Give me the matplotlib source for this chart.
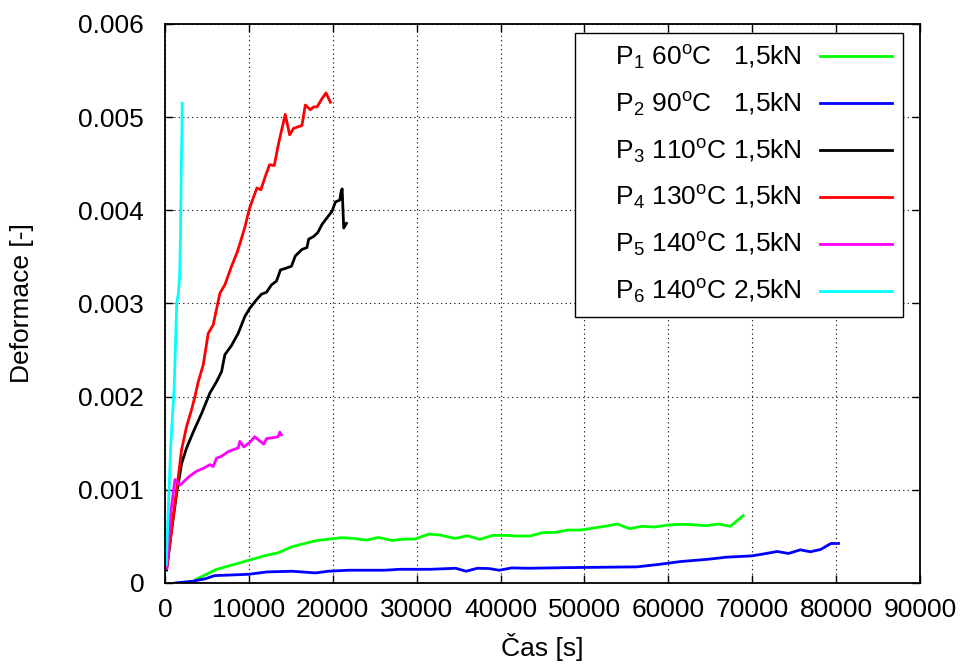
import matplotlib
matplotlib.use("Agg")
import matplotlib.pyplot as plt
from matplotlib.ticker import MultipleLocator, FuncFormatter

plt.rcParams['font.family'] = ['Liberation Sans', 'DejaVu Sans']
plt.rcParams['mathtext.fontset'] = 'custom'
plt.rcParams['mathtext.rm'] = 'Liberation Sans'
plt.rcParams['mathtext.it'] = 'Liberation Sans'

# P1: 60 °C, 1.5 kN
p1_t = [3650, 6080, 10040, 12170, 13500, 15090, 17940, 20990, 22500, 24030,
        25430, 27070, 28590, 29800, 31450, 32850, 34550, 36070, 37530, 39050,
        40750, 41970, 43490, 45010, 46530, 48050, 49570, 51090, 52610, 53950,
        55350, 56870, 58390, 59910, 61440, 62960, 64480, 66000, 67400, 68920]
p1_e = [0.000036, 0.000144, 0.000245, 0.000299, 0.000324, 0.000388, 0.000453,
        0.000486, 0.000478, 0.000460, 0.000489, 0.000457, 0.000471, 0.000471,
        0.000525, 0.000514, 0.000478, 0.000507, 0.000468, 0.000511, 0.000511,
        0.000504, 0.000504, 0.000540, 0.000543, 0.000568, 0.000568, 0.000590,
        0.000611, 0.000633, 0.000583, 0.000608, 0.000601, 0.000622, 0.000629,
        0.000626, 0.000615, 0.000633, 0.000608, 0.000723]

# P2: 90 °C, 1.5 kN
p2_t = [1220, 3350, 4870, 5900, 7910, 10040, 12170, 15210, 17940, 19460,
        21900, 26160, 27980, 31630, 34670, 35890, 37230, 38630, 39840, 41360,
        43190, 48050, 56260, 59000, 61440, 64780, 66910, 69950, 71170, 72990,
        74330, 75730, 76940, 78160, 79380, 80290]
p2_e = [0.0, 0.000020, 0.000047, 0.000079, 0.000086, 0.000094, 0.000119,
        0.000126, 0.000108, 0.000126, 0.000137, 0.000137, 0.000147, 0.000147,
        0.000158, 0.000126, 0.000158, 0.000155, 0.000137, 0.000162, 0.000158,
        0.000165, 0.000173, 0.000201, 0.000230, 0.000255, 0.000277, 0.000291,
        0.000309, 0.000338, 0.000317, 0.000356, 0.000335, 0.000360, 0.000424,
        0.000424]

# P3: 110 °C, 1.5 kN
p3_t = [200, 790, 1390, 1980, 2580, 3370, 4370, 5360, 6150, 6750, 7140, 7940,
        8730, 9520, 10120, 10910, 11510, 12100, 12700, 13290, 13770, 14480,
        15080, 15540, 16330, 16930, 17130, 17730, 18210, 18730, 19320, 19920,
        20320, 20840, 21000, 21120, 21310, 21630]
p3_e = [0.00014, 0.00057, 0.00096, 0.00128, 0.00145, 0.00162, 0.00182, 0.00204,
        0.00216, 0.00227, 0.00245, 0.00255, 0.00268, 0.00286, 0.00295, 0.00304,
        0.00310, 0.00312, 0.00320, 0.00324, 0.00336, 0.00338, 0.00340, 0.00351,
        0.00358, 0.00360, 0.00369, 0.00372, 0.00376, 0.00385, 0.00392, 0.00399,
        0.00409, 0.00411, 0.00420, 0.00423, 0.00381, 0.00386]

# P4: 130 °C, 1.5 kN
p4_t = [200, 790, 1390, 1980, 2580, 3170, 3570, 3970, 4560, 5160, 5750, 6550,
        7140, 7940, 8610, 8960, 9560, 10040, 10960, 11430, 11950, 12470, 13030,
        13550, 14340, 14860, 15340, 16330, 16730, 17330, 17730, 18130, 18730,
        19200, 19720]
p4_e = [0.000157, 0.00057, 0.00100, 0.00143, 0.00168, 0.00186, 0.00200,
        0.00216, 0.00234, 0.00268, 0.00277, 0.00311, 0.00320, 0.00340, 0.00355,
        0.00365, 0.00383, 0.00401, 0.00424, 0.00422, 0.00436, 0.00449, 0.00448,
        0.00472, 0.00503, 0.00481, 0.00488, 0.00491, 0.00513, 0.00508, 0.00511,
        0.00511, 0.00520, 0.00526, 0.00516]

# P5: 140 °C, 1.5 kN
p5_t = [200, 680, 1190, 1790, 2380, 2980, 3770, 4560, 5360, 5750, 6150, 6750,
        7540, 8130, 8730, 8930, 9400, 10120, 10710, 11230, 11790, 12100, 12900,
        13490, 13690, 13890]
p5_e = [0.000157, 0.000748, 0.00111, 0.00105, 0.00110, 0.00115, 0.00120,
        0.00123, 0.00127, 0.00125, 0.00134, 0.00136, 0.00141, 0.00143, 0.00145,
        0.00152, 0.00146, 0.00151, 0.00157, 0.00153, 0.00149, 0.00155, 0.00156,
        0.00157, 0.00162, 0.00159]

# P6: 140 °C, 2.5 kN
p6_t = [150, 700, 1100, 1400, 1600, 1750, 1850, 1950, 2000, 2060]
p6_e = [0.00020, 0.00150, 0.00210, 0.00300, 0.00311, 0.00330, 0.00370,
        0.00450, 0.00470, 0.00515]

series = [
    (p1_t, p1_e, '#00ff00', r'    P$_1$ 60$^{\mathrm{o}}$C   1,5kN'),
    (p2_t, p2_e, '#0000ff', r'    P$_2$ 90$^{\mathrm{o}}$C   1,5kN'),
    (p3_t, p3_e, '#000000', r'    P$_3$ 110$^{\mathrm{o}}$C 1,5kN'),
    (p4_t, p4_e, '#ff0000', r'    P$_4$ 130$^{\mathrm{o}}$C 1,5kN'),
    (p5_t, p5_e, '#ff00ff', r'    P$_5$ 140$^{\mathrm{o}}$C 1,5kN'),
    (p6_t, p6_e, '#00ffff', r'    P$_6$ 140$^{\mathrm{o}}$C 2,5kN'),
]

FS = 19

fig = plt.figure(figsize=(9.63, 6.64), dpi=100)
ax = fig.add_axes([0.1713, 0.1220, 0.7840, 0.8419])

for t, e, c, lab in series:
    ax.plot(t, e, color=c, lw=2.0, label=lab)

ax.set_xlim(0, 90000)
ax.set_ylim(0, 0.006)
ax.xaxis.set_major_locator(MultipleLocator(10000))
ax.yaxis.set_major_locator(MultipleLocator(0.001))
ax.xaxis.set_major_formatter(FuncFormatter(lambda v, p: f"{int(round(v))}"))
ax.yaxis.set_major_formatter(FuncFormatter(lambda v, p: "0" if abs(v) < 1e-12 else f"{v:.3f}"))

ax.grid(True, color='black', linestyle=(0, (1, 3)), linewidth=0.8)
ax.tick_params(direction='in', length=6, width=1, top=True, right=True,
               labelsize=FS)
ax.tick_params(axis='x', pad=11)
ax.tick_params(axis='y', pad=15)
for s in ax.spines.values():
    s.set_linewidth(1.3)

ax.set_xlabel('Čas [s]', fontsize=FS, labelpad=8)
ax.set_ylabel('Deformace [-]', fontsize=FS, labelpad=32)

leg = ax.legend(loc='upper right', bbox_to_anchor=(0.9775, 0.984),
                borderaxespad=0, markerfirst=False, fontsize=FS,
                handlelength=2.75, handletextpad=0.7, labelspacing=0.71,
                borderpad=0.4, fancybox=False, framealpha=1)
leg.get_frame().set_edgecolor('black')
leg.get_frame().set_linewidth(1.0)

fig.savefig('out.png', dpi=100)
